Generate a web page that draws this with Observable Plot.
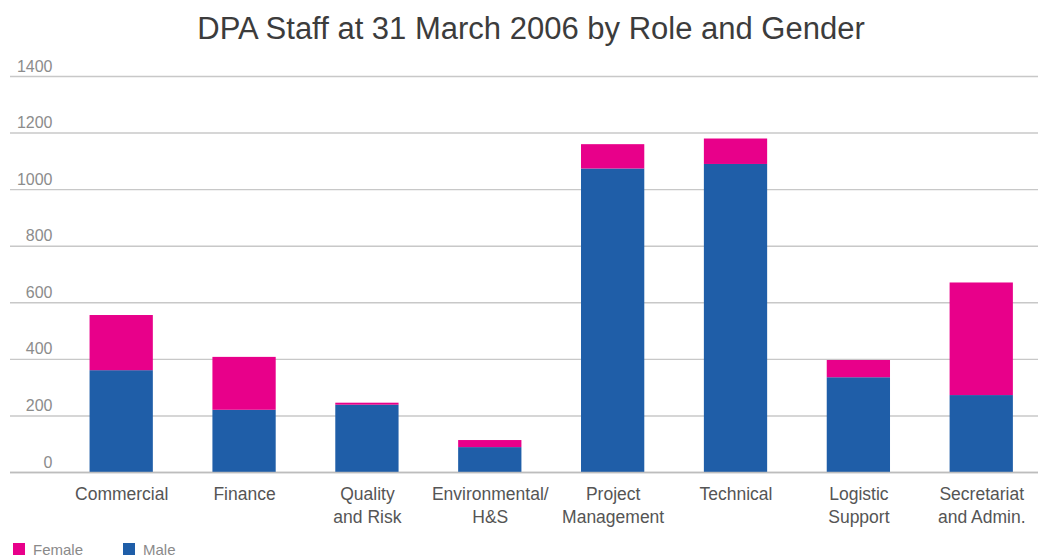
<!DOCTYPE html>
<html>
<head>
<meta charset="utf-8">
<script src="https://cdn.jsdelivr.net/npm/d3@7"></script>
<script src="https://cdn.jsdelivr.net/npm/@observablehq/plot@0.6"></script>
<style>
  html, body { margin: 0; padding: 0; background: #fff; }
  body { width: 1038px; height: 559px; overflow: hidden; font-family: "Liberation Sans", Arial, sans-serif; }
  #title { height: 50px; line-height: 58px; text-align: center; font-size: 31px; color: #3c3c3c; padding-left: 24px; box-sizing: border-box; width: 1038px; white-space: nowrap; }
  #legend { display: flex; align-items: center; height: 22px; margin-top: 8px; padding-left: 13px; font-size: 15px; color: #8a8a8a; }
  .sw { display: inline-block; width: 12px; height: 12px; margin-right: 8px; }
  .item { display: inline-flex; align-items: center; margin-right: 40px; }
</style>
</head>
<body>
<div id="title">DPA Staff at 31 March 2006 by Role and Gender</div>
<div id="chart"></div>
<div id="legend"></div>
<script>
const categories = ["Commercial", "Finance", "Quality and Risk", "Environmental/ H&S", "Project Management", "Technical", "Logistic Support", "Secretariat and Admin."];
const categoryLabels = ["Commercial", "Finance", "Quality\nand Risk", "Environmental/\nH&S", "Project\nManagement", "Technical", "Logistic\nSupport", "Secretariat\nand Admin."];
const male = [360, 220, 238, 88, 1073, 1089, 335, 272];
const female = [195, 187, 7, 25, 86, 90, 61, 398];
const genders = ["Male", "Female"];
const colors = ["#1f5ea8", "#e8008a"];
const legendOrder = ["Female", "Male"];
const yTicks = [0, 200, 400, 600, 800, 1000, 1200, 1400];

const rows = [];
categories.forEach((c, i) => {
  rows.push({category: c, gender: "Male", value: male[i]});
  rows.push({category: c, gender: "Female", value: female[i]});
});
const labelOf = new Map(categories.map((c, i) => [c, categoryLabels[i]]));

const chart = Plot.plot({
  width: 1038,
  height: 480,
  marginTop: 26,
  marginBottom: 58,
  marginLeft: 10,
  marginRight: 0,
  style: {fontFamily: "Liberation Sans, Arial, sans-serif", background: "#fff"},
  x: {domain: categories, paddingInner: 0.485, paddingOuter: 0.426, align: 0.76, round: false, label: null},
  y: {domain: [0, 1400], label: null},
  color: {domain: genders, range: colors},
  marks: [
    Plot.gridY(yTicks, {stroke: "#c8c8c8", strokeOpacity: 1, strokeWidth: 1.4}),
    Plot.barY(rows, Plot.stackY({x: "category", y: "value", fill: "gender", order: null})),
    Plot.ruleY([0], {stroke: "#bdbdbd", strokeWidth: 1.6}),
    Plot.axisY(yTicks, {tickSize: 0, tickPadding: 0, dx: 42, dy: -10, fontSize: 16, fill: "#8c8c8c", label: null, tickFormat: d => String(d)}),
    Plot.axisX({tickSize: 0, tickPadding: 11, fontSize: 17.5, lineHeight: 1.31, fill: "#555", label: null, tickFormat: d => labelOf.get(d)})
  ]
});
document.getElementById("chart").appendChild(chart);

const legend = document.getElementById("legend");
legendOrder.forEach(g => {
  const item = document.createElement("span");
  item.className = "item";
  const sw = document.createElement("span");
  sw.className = "sw";
  sw.style.background = colors[genders.indexOf(g)];
  item.appendChild(sw);
  item.appendChild(document.createTextNode(g));
  legend.appendChild(item);
});
</script>
</body>
</html>
